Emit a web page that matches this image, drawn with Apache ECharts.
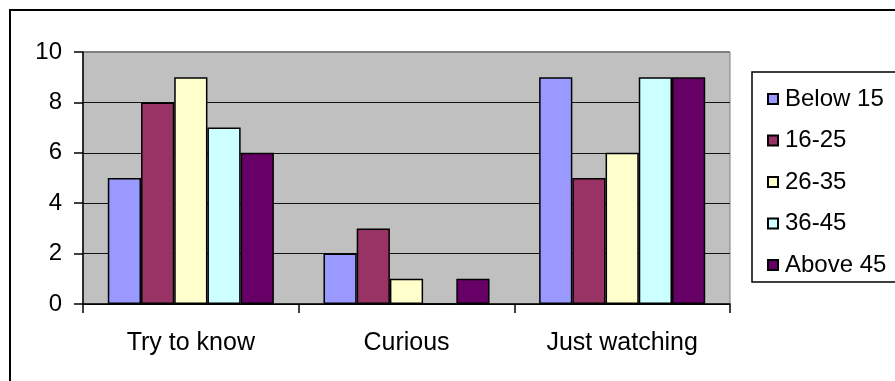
<!DOCTYPE html>
<html>
<head>
<meta charset="utf-8">
<style>
  html, body { margin: 0; padding: 0; background: #ffffff; }
  #chart { width: 895px; height: 381px; }
</style>
<script src="https://cdn.jsdelivr.net/npm/echarts@6/dist/echarts.min.js"></script>
</head>
<body>
<div id="chart"></div>
<script>
// Survey answers by age group
const categories = ['Try to know', 'Curious', 'Just watching'];
const seriesNames = ['Below 15', '16-25', '26-35', '36-45', 'Above 45'];
const below15 = [5, 2, 9];
const age16to25 = [8, 3, 5];
const age26to35 = [9, 1, 6];
const age36to45 = [7, 0, 9];
const above45 = [6, 1, 9];
const yTicks = [0, 2, 4, 6, 8, 10];

const seriesValues = [below15, age16to25, age26to35, age36to45, above45];
const colors = ['#9999FF', '#993366', '#FFFFCC', '#CCFFFF', '#660066'];

const FONT = '"Liberation Sans", Arial, sans-serif';
const plot = { left: 83, top: 52, width: 647, height: 252 };

const chart = echarts.init(document.getElementById('chart'), null, { renderer: 'canvas' });

const option = {
  animation: false,
  backgroundColor: '#ffffff',
  grid: {
    left: plot.left, top: plot.top, width: plot.width, height: plot.height,
    show: true, backgroundColor: '#C0C0C0', borderColor: '#808080', borderWidth: 1
  },
  legend: {
    orient: 'vertical',
    left: 762, top: 82,
    itemWidth: 10, itemHeight: 10, itemGap: 17.5,
    icon: 'rect',
    data: seriesNames,
    textStyle: { fontFamily: FONT, fontSize: 24, color: '#000', lineHeight: 24, padding: [0, 0, 0, 2] }
  },
  xAxis: {
    type: 'category',
    data: categories,
    axisLine: { lineStyle: { color: '#000', width: 1.5 } },
    axisTick: { show: true, length: 9, alignWithLabel: false, lineStyle: { color: '#000', width: 1.5 } },
    axisLabel: { fontFamily: FONT, fontSize: 25, color: '#000', margin: 27 },
    splitLine: { show: false }
  },
  yAxis: {
    type: 'value',
    min: yTicks[0], max: yTicks[yTicks.length - 1], interval: yTicks[1] - yTicks[0],
    axisLine: { show: true, lineStyle: { color: '#000', width: 1.5 } },
    axisTick: { show: true, length: 9, lineStyle: { color: '#000', width: 1.5 } },
    axisLabel: { fontFamily: FONT, fontSize: 24, color: '#000', margin: 21 },
    splitLine: { show: true, lineStyle: { color: '#111', width: 1.2 } }
  },
  series: seriesNames.map((name, i) => ({
    name,
    type: 'bar',
    data: seriesValues[i],
    barGap: '0%',
    barCategoryGap: '23%',
    itemStyle: { color: colors[i], borderColor: '#000', borderWidth: 1.5 }
  })),
  graphic: [
    // outer chart frame
    { type: 'rect', shape: { x: 10, y: 10, width: 900, height: 400 }, style: { fill: 'none', stroke: '#000', lineWidth: 2 }, z: 100, silent: true },
    // plot area top edge (covers the gridline at max)
    { type: 'line', shape: { x1: plot.left + 1, y1: plot.top, x2: plot.left + plot.width, y2: plot.top }, style: { stroke: '#808080', lineWidth: 2 }, z: 100, silent: true },
    // legend frame
    { type: 'rect', shape: { x: 752, y: 72, width: 200, height: 210 }, style: { fill: 'none', stroke: '#000', lineWidth: 1.5 }, z: 100, silent: true }
  ]
};

chart.setOption(option);
</script>
</body>
</html>
